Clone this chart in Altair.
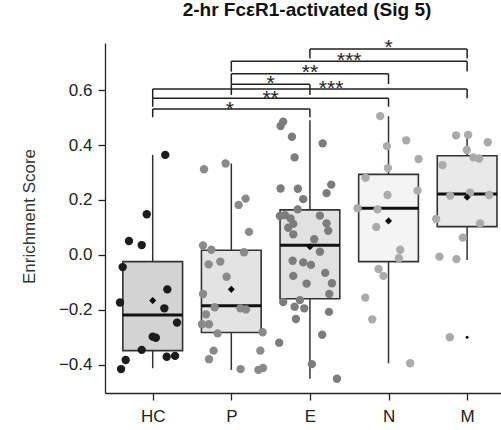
import altair as alt
import pandas as pd

# ---------------- data ----------------
groups = ["HC", "P", "E", "N", "M"]

box_q1 = [-0.348, -0.282, -0.159, -0.024, 0.103]
box_q3 = [-0.024, 0.017, 0.164, 0.293, 0.361]
box_med = [-0.218, -0.185, 0.035, 0.170, 0.222]
whisk_lo = [-0.412, -0.418, -0.450, -0.394, -0.018]
whisk_hi = [0.364, 0.333, 0.490, 0.505, 0.436]
means = [-0.166, -0.125, 0.030, 0.124, 0.210]

outlier_group = ["M"]
outlier_val = [-0.299]

# jitter (offset from category centre, in category units) and value of each point
hc_jit = [0.160, -0.076, -0.302, -0.140, -0.382, 0.186, -0.416, 0.148, 0.309,
          0.000, 0.040, -0.140, 0.178, 0.284, -0.344, -0.403]
hc_val = [0.364, 0.148, 0.051, 0.036, -0.044, -0.125, -0.173, -0.194, -0.246,
          -0.297, -0.301, -0.345, -0.370, -0.367, -0.382, -0.415]

p_jit = [-0.347, -0.073, 0.093, 0.182, 0.225, -0.360, -0.254, 0.162, -0.289,
         -0.140, -0.060, -0.360, -0.212, 0.115, 0.187, -0.322, -0.373, -0.284,
         -0.174, 0.398, -0.225, 0.369, -0.284, 0.118, 0.344, 0.403]
p_val = [0.312, 0.333, 0.182, 0.205, 0.084, 0.035, 0.019, 0.010, -0.034,
         -0.024, -0.079, -0.142, -0.190, -0.194, -0.198, -0.216, -0.252, -0.252,
         -0.285, -0.281, -0.348, -0.348, -0.379, -0.415, -0.418, -0.411]

e_jit = [-0.340, -0.373, -0.229, 0.162, -0.195, -0.373, -0.153, 0.271, 0.212,
         -0.085, -0.156, -0.382, -0.318, -0.246, 0.127, -0.276, -0.212, 0.212,
         0.233, -0.212, 0.055, 0.127, -0.220, -0.085, 0.013, -0.212, 0.195,
         -0.042, 0.280, 0.246, -0.340, -0.195, -0.127, -0.072, 0.242, -0.178,
         0.156, -0.391, 0.025, 0.344]
e_val = [0.485, 0.469, 0.430, 0.406, 0.355, 0.242, 0.241, 0.256, 0.225,
         0.203, 0.166, 0.142, 0.145, 0.133, 0.143, 0.099, 0.113, 0.115,
         0.088, 0.075, 0.057, 0.012, -0.021, -0.027, -0.036, -0.076, -0.065,
         -0.104, -0.103, -0.142, -0.171, -0.188, -0.164, -0.194, -0.207, -0.233,
         -0.290, -0.319, -0.397, -0.450]

n_jit = [-0.106, 0.225, -0.020, 0.382, -0.008, -0.293, -0.013, 0.369, -0.394,
         -0.140, -0.156, 0.149, 0.132, -0.127, -0.064, -0.296, -0.207, 0.276]
n_val = [0.505, 0.417, 0.396, 0.349, 0.316, 0.281, 0.218, 0.234, 0.170,
         0.166, 0.102, 0.019, -0.012, -0.051, -0.076, -0.155, -0.234, -0.394]

m_jit = [-0.140, 0.013, 0.263, -0.004, 0.080, 0.153, -0.314, -0.216, 0.038,
         0.280, -0.394, 0.165, -0.055, -0.352, -0.136, -0.220]
m_val = [0.435, 0.437, 0.410, 0.382, 0.355, 0.351, 0.327, 0.216, 0.227,
         0.218, 0.131, 0.115, 0.063, -0.006, -0.015, -0.299]

# significance brackets
br_from = ["E", "P", "P", "P", "HC", "HC", "HC"]
br_to = ["M", "M", "N", "E", "M", "N", "E"]
br_y = [0.749, 0.705, 0.659, 0.621, 0.604, 0.570, 0.531]
br_drop = [0.715, 0.667, 0.622, 0.582, 0.570, 0.539, 0.501]
br_label = ["*", "***", "**", "*", "***", "**", "*"]
br_label_x = [3.0, 2.5, 2.0, 1.5, 2.27, 1.5, 0.98]
br_label_y = [0.773, 0.727, 0.685, 0.642, 0.624, 0.588, 0.549]

title_text = "2-hr FcεR1-activated (Sig 5)"
y_title = "Enrichment Score"

# ---------------- styles ----------------
point_colors = ["#1c1c1c", "#8a8a8a", "#7c7c7c", "#ababab", "#aaaaaa"]
box_fills = ["#d3d3d3", "#e3e3e3", "#e1e1e1", "#f4f4f4", "#e9e9e9"]
HALF = 0.38
FONT = "Liberation Sans"

idx = {g: i for i, g in enumerate(groups)}

boxes = pd.DataFrame({
    "group": groups,
    "c": list(range(len(groups))),
    "q1": box_q1, "q3": box_q3, "med": box_med,
    "lo": whisk_lo, "hi": whisk_hi, "mean": means,
})
boxes["left"] = boxes["c"] - HALF
boxes["right"] = boxes["c"] + HALF

rows = []
for g, jit, val in [("HC", hc_jit, hc_val), ("P", p_jit, p_val), ("E", e_jit, e_val),
                    ("N", n_jit, n_val), ("M", m_jit, m_val)]:
    for j, v in zip(jit, val):
        rows.append({"group": g, "x": idx[g] + j, "v": v})
pts = pd.DataFrame(rows)

outl = pd.DataFrame({"x": [idx[g] for g in outlier_group], "v": outlier_val})

br = pd.DataFrame({
    "x1": [idx[g] for g in br_from], "x2": [idx[g] for g in br_to],
    "y": br_y, "yd": br_drop, "label": br_label,
    "lx": br_label_x, "ly": br_label_y,
})
br_ends = pd.concat([
    pd.DataFrame({"x": br["x1"], "y": br["y"], "yd": br["yd"]}),
    pd.DataFrame({"x": br["x2"], "y": br["y"], "yd": br["yd"]}),
])

xscale = alt.Scale(domain=[-0.607, 4.431], nice=False, zero=False)
yscale = alt.Scale(domain=[-0.502, 0.771], nice=False, zero=False)
xaxis = alt.Axis(values=[0, 1, 2, 3, 4],
                 labelExpr="['HC','P','E','N','M'][datum.value]",
                 title=None, grid=False, tickSize=7, labelPadding=8)
yaxis = alt.Axis(values=[-0.4, -0.2, 0.0, 0.2, 0.4, 0.6], format=".1f",
                 title=y_title, grid=False, tickSize=7, labelPadding=6,
                 titleAngle=-90, titleX=-71, titleY=173, titleAlign="center",
                 titleBaseline="alphabetic", titleFontSize=17,
                 titleFontWeight="normal", titleFont=FONT, titleColor="#333")

color_scale = alt.Scale(domain=groups, range=point_colors)
fill_scale = alt.Scale(domain=groups, range=box_fills)

base_box = alt.Chart(boxes)

whiskers = base_box.mark_rule(color="#333", strokeWidth=1.5).encode(
    x=alt.X("c:Q", scale=xscale, axis=xaxis),
    y=alt.Y("lo:Q", scale=yscale, axis=yaxis),
    y2="hi:Q",
)

rects = base_box.mark_rect(stroke="#333", strokeWidth=1.6).encode(
    x=alt.X("left:Q", scale=xscale, axis=xaxis),
    x2="right:Q",
    y=alt.Y("q1:Q", scale=yscale, axis=yaxis),
    y2="q3:Q",
    fill=alt.Fill("group:N", scale=fill_scale, legend=None),
)

medians = base_box.mark_rule(color="#111", strokeWidth=3).encode(
    x=alt.X("left:Q", scale=xscale, axis=xaxis),
    x2="right:Q",
    y=alt.Y("med:Q", scale=yscale, axis=yaxis),
)

dots = alt.Chart(pts).mark_circle(size=70, opacity=1).encode(
    x=alt.X("x:Q", scale=xscale, axis=xaxis),
    y=alt.Y("v:Q", scale=yscale, axis=yaxis),
    color=alt.Color("group:N", scale=color_scale, legend=None),
)

mean_pts = base_box.mark_point(shape="diamond", filled=True, size=50,
                               color="#111", opacity=1).encode(
    x=alt.X("c:Q", scale=xscale, axis=xaxis),
    y=alt.Y("mean:Q", scale=yscale, axis=yaxis),
)

outl_pts = alt.Chart(outl).mark_circle(size=9, color="#111", opacity=1).encode(
    x=alt.X("x:Q", scale=xscale, axis=xaxis),
    y=alt.Y("v:Q", scale=yscale, axis=yaxis),
)

br_h = alt.Chart(br).mark_rule(color="#222", strokeWidth=1.5).encode(
    x=alt.X("x1:Q", scale=xscale, axis=xaxis),
    x2="x2:Q",
    y=alt.Y("y:Q", scale=yscale, axis=yaxis),
)
br_v = alt.Chart(br_ends).mark_rule(color="#222", strokeWidth=1.5).encode(
    x=alt.X("x:Q", scale=xscale, axis=xaxis),
    y=alt.Y("y:Q", scale=yscale, axis=yaxis),
    y2="yd:Q",
)
br_t = alt.Chart(br).mark_text(fontSize=21, font=FONT, color="#222",
                               baseline="alphabetic", dy=12).encode(
    x=alt.X("lx:Q", scale=xscale, axis=xaxis),
    y=alt.Y("ly:Q", scale=yscale, axis=yaxis),
    text="label:N",
)

chart = alt.layer(
    whiskers, rects, medians, dots, mean_pts, outl_pts, br_h, br_v, br_t
).properties(
    width=396, height=350,
    padding={"left": 105, "top": 43, "right": 0, "bottom": 37},
    autosize=alt.AutoSizeParams(type="none"),
    title=alt.TitleParams(title_text, fontSize=19, fontWeight="bold", font=FONT,
                          color="#111", anchor="middle", frame="group",
                          offset=17, dx=4),
).configure_view(stroke=None).configure_axis(
    domainColor="#222", domainWidth=1.3, tickColor="#222", tickWidth=1.3,
    labelColor="#222", labelFontSize=17, labelFont=FONT,
)

chart.save("out.html", embed_options={"renderer": "svg", "actions": False})
